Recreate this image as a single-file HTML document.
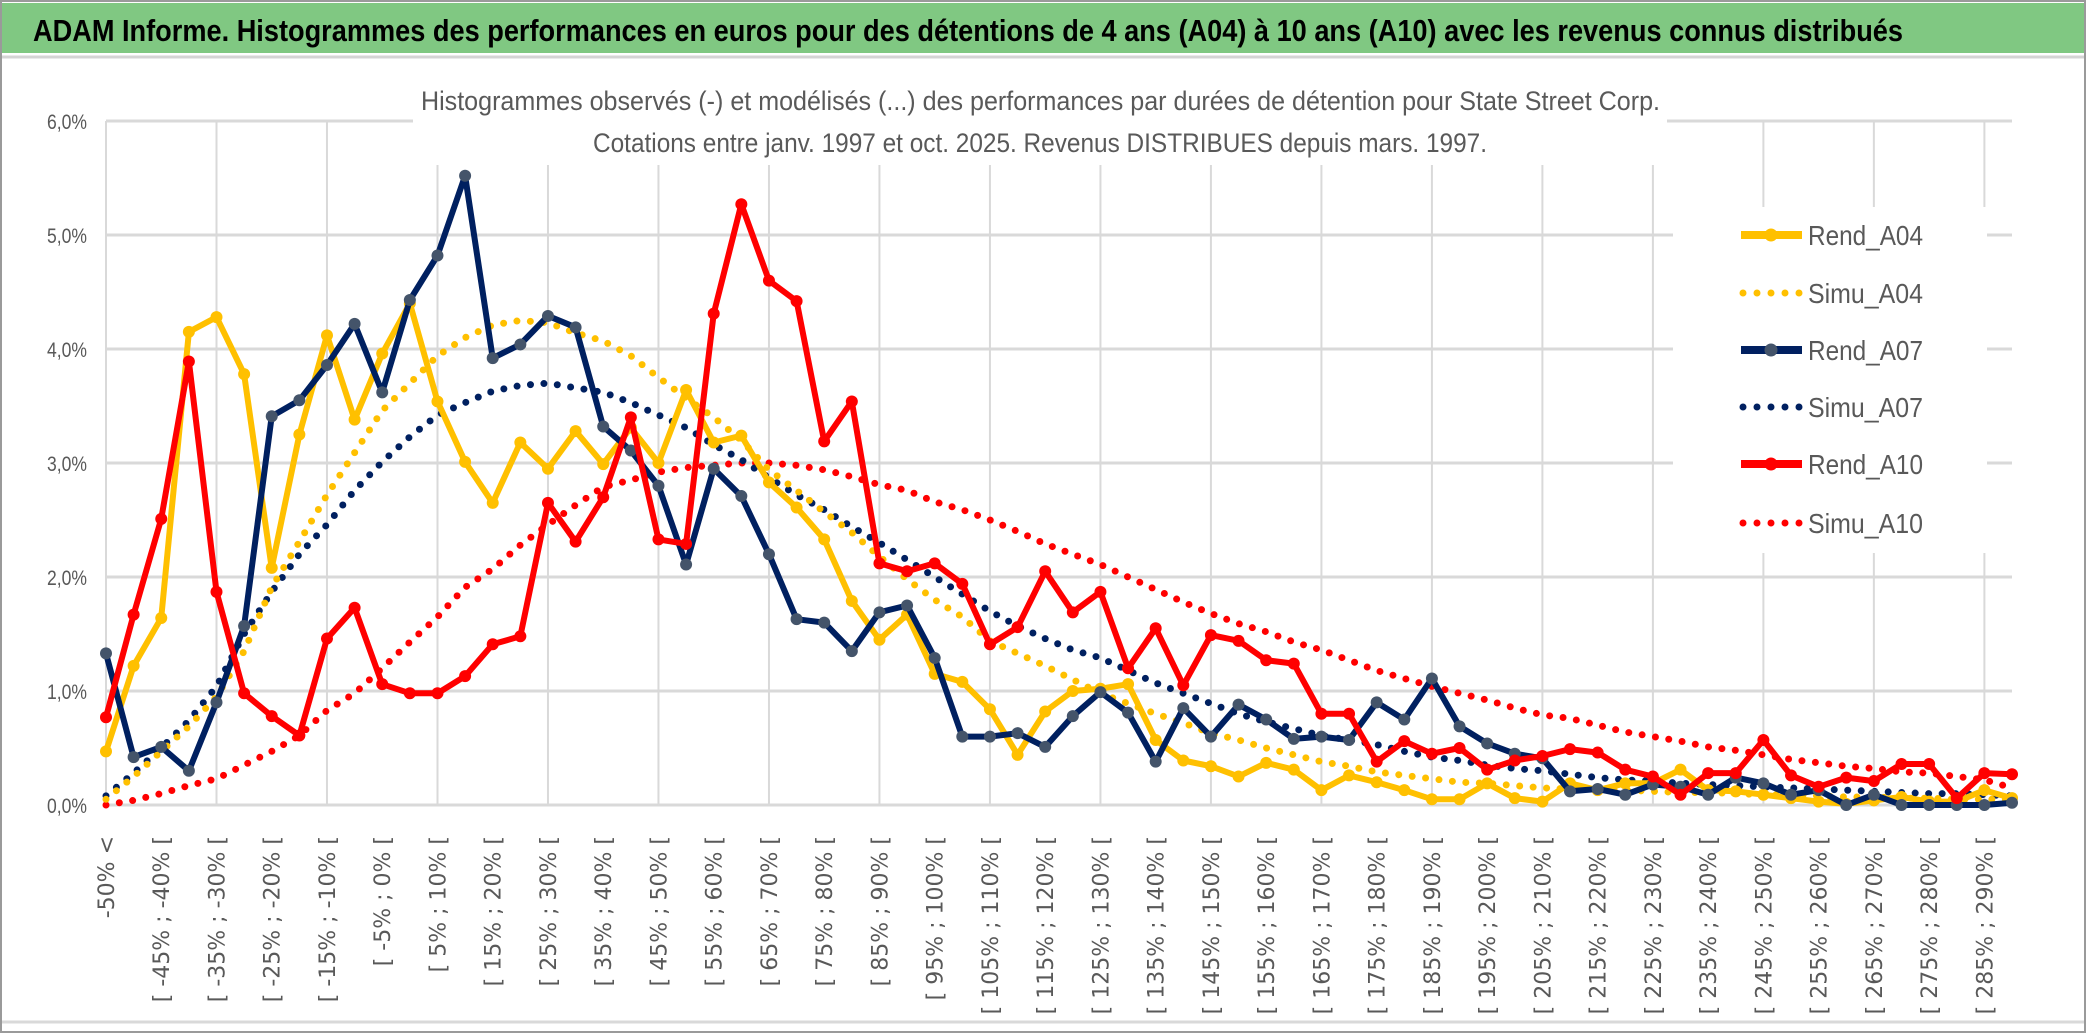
<!DOCTYPE html>
<html><head><meta charset="utf-8"><style>
html,body{margin:0;padding:0;background:#fff;}
svg{display:block;}
</style></head><body>
<svg id="chart" xmlns="http://www.w3.org/2000/svg" width="2086" height="1033" viewBox="0 0 2086 1033">
<rect x="0" y="0" width="2086" height="1033" fill="#fff"/>
<rect x="1" y="1" width="2084" height="1031" fill="none" stroke="#9a9a9a" stroke-width="2"/>
<rect x="2" y="3" width="2082" height="50" fill="#80C882"/>
<line x1="2" y1="57" x2="2084" y2="57" stroke="#d4d4d4" stroke-width="3"/>
<text x="33" y="41" font-family="Liberation Sans, sans-serif" font-weight="bold" font-size="31" fill="#000" textLength="1870" lengthAdjust="spacingAndGlyphs">ADAM Informe. Histogrammes des performances en euros pour des détentions de 4 ans (A04) à 10 ans (A10) avec les revenus connus distribués</text>
<line x1="2" y1="1022" x2="2084" y2="1022" stroke="#d9d9d9" stroke-width="3"/>
<g id="grid"></g>
<g id="series"></g>
<rect x="413" y="72" width="1254" height="93" fill="#fff"/>
<text x="421" y="110" font-family="Liberation Sans, sans-serif" font-size="27" fill="#595959" textLength="1239" lengthAdjust="spacingAndGlyphs">Histogrammes observés (-) et modélisés (...) des performances par durées de détention pour State Street Corp.</text>
<text x="593" y="152" font-family="Liberation Sans, sans-serif" font-size="27" fill="#595959" textLength="894" lengthAdjust="spacingAndGlyphs">Cotations entre janv. 1997 et oct. 2025. Revenus DISTRIBUES depuis mars. 1997.</text>
<g id="yaxis"></g>
<g id="xaxis"></g>
<g id="legend"></g>
</svg>
<script>
const categories = ["-50% <"];
for (let k = 1; k < 69; k++) { categories.push("[ " + (-50 + 5*(k-1)) + "% ; " + (-45 + 5*(k-1)) + "% ["); }
categories.push("> 290%");
const yTicks = [0,1,2,3,4,5,6];
const yTickLabels = ["0,0%","1,0%","2,0%","3,0%","4,0%","5,0%","6,0%"];
const rendA04 = [0.47,1.22,1.64,4.15,4.28,3.78,2.08,3.25,4.12,3.38,3.96,4.40,3.54,3.01,2.65,3.18,2.95,3.28,2.99,3.31,3.00,3.64,3.18,3.24,2.83,2.61,2.33,1.79,1.45,1.67,1.15,1.08,0.84,0.44,0.82,1.00,1.02,1.06,0.57,0.39,0.34,0.25,0.37,0.31,0.13,0.26,0.20,0.13,0.05,0.05,0.19,0.06,0.03,0.19,0.13,0.19,0.19,0.31,0.13,0.12,0.09,0.06,0.03,0.01,0.04,0.07,0.03,0.03,0.13,0.06];
const simuA04 = [0.05,0.25,0.47,0.69,0.95,1.35,1.91,2.31,2.72,3.09,3.46,3.70,3.94,4.10,4.21,4.25,4.23,4.14,4.07,3.94,3.75,3.57,3.40,3.20,2.94,2.76,2.57,2.39,2.18,1.98,1.80,1.65,1.44,1.33,1.22,1.10,0.98,0.89,0.80,0.72,0.63,0.57,0.50,0.44,0.38,0.34,0.29,0.26,0.23,0.20,0.19,0.17,0.15,0.14,0.14,0.13,0.12,0.11,0.11,0.10,0.09,0.09,0.08,0.07,0.07,0.06,0.06,0.05,0.05,0.05];
const rendA07 = [1.33,0.42,0.51,0.30,0.90,1.57,3.41,3.55,3.86,4.22,3.62,4.43,4.82,5.52,3.92,4.04,4.29,4.19,3.32,3.11,2.80,2.11,2.95,2.71,2.20,1.63,1.60,1.35,1.69,1.75,1.29,0.60,0.60,0.63,0.51,0.78,0.99,0.81,0.38,0.85,0.60,0.88,0.75,0.58,0.60,0.57,0.90,0.75,1.11,0.69,0.54,0.45,0.41,0.12,0.14,0.09,0.18,0.16,0.09,0.24,0.19,0.09,0.13,0.00,0.09,0.00,0.00,0.00,0.00,0.02];
const simuA07 = [0.08,0.28,0.50,0.74,1.04,1.50,1.87,2.20,2.46,2.76,3.01,3.23,3.42,3.53,3.63,3.68,3.70,3.66,3.62,3.53,3.42,3.31,3.16,3.03,2.87,2.72,2.59,2.44,2.30,2.15,2.00,1.85,1.70,1.57,1.46,1.36,1.29,1.18,1.07,0.98,0.89,0.80,0.73,0.67,0.61,0.57,0.53,0.47,0.42,0.39,0.35,0.32,0.30,0.27,0.24,0.22,0.21,0.19,0.18,0.17,0.16,0.15,0.14,0.13,0.12,0.11,0.10,0.10,0.09,0.08];
const rendA10 = [0.77,1.67,2.51,3.89,1.87,0.98,0.78,0.61,1.46,1.73,1.06,0.98,0.98,1.13,1.41,1.48,2.65,2.31,2.70,3.40,2.33,2.29,4.31,5.27,4.60,4.42,3.19,3.54,2.12,2.05,2.12,1.94,1.41,1.56,2.05,1.69,1.87,1.20,1.55,1.05,1.49,1.44,1.27,1.24,0.80,0.80,0.38,0.56,0.45,0.50,0.31,0.39,0.43,0.49,0.46,0.31,0.25,0.09,0.28,0.28,0.57,0.26,0.16,0.24,0.21,0.36,0.36,0.06,0.28,0.27];
const simuA10 = [0.00,0.04,0.10,0.17,0.23,0.35,0.47,0.61,0.83,0.98,1.20,1.43,1.65,1.91,2.07,2.28,2.46,2.63,2.79,2.85,2.92,2.96,2.98,3.00,3.00,2.98,2.94,2.88,2.81,2.76,2.66,2.59,2.50,2.40,2.29,2.20,2.11,2.00,1.89,1.78,1.68,1.59,1.52,1.43,1.36,1.27,1.18,1.11,1.04,0.98,0.92,0.85,0.79,0.76,0.70,0.64,0.60,0.56,0.51,0.48,0.44,0.40,0.37,0.34,0.32,0.29,0.28,0.25,0.22,0.15];
const seriesNames = ["Rend_A04","Simu_A04","Rend_A07","Simu_A07","Rend_A10","Simu_A10"];

const NS = "http://www.w3.org/2000/svg";
const X0 = 106, X1 = 2012, Y0 = 805, Y1 = 121, YMAX = 6;
function xPos(i){ return X0 + (X1 - X0) * i / (categories.length - 1); }
function yPos(v){ return Y0 - (Y0 - Y1) * v / YMAX; }
function mk(tag, attrs, parent){ const e = document.createElementNS(NS, tag); for (const k in attrs) e.setAttribute(k, attrs[k]); parent.appendChild(e); return e; }

const grid = document.getElementById("grid");
yTicks.forEach(function(t){
  const l = mk("line", {x1:X0, x2:X1, y1:yPos(t), y2:yPos(t), stroke:"#d9d9d9", "stroke-width":3}, grid);
  
  
});
for (let i = 0; i < categories.length; i += 4) {
  const l = mk("line", {x1:xPos(i), x2:xPos(i), y1:Y1, y2:Y0, stroke:"#d9d9d9", "stroke-width":2}, grid);
  
  
}

const yaxis = document.getElementById("yaxis");
yTicks.forEach(function(t, k){
  const tx = mk("text", {x:47, y:yPos(t)+8, "font-family":"Liberation Sans, sans-serif", "font-size":"21", fill:"#595959", textLength:"40", lengthAdjust:"spacingAndGlyphs"}, yaxis);
  tx.textContent = yTickLabels[k];
  
  
});

const xaxis = document.getElementById("xaxis");
for (let i = 0; i < categories.length; i += 2) {
  const x = xPos(i) + 8, y = 836;
  const tx = mk("text", {x:x, y:y, "text-anchor":"end", transform:"rotate(-90 "+x+" "+y+")", "font-family":"DejaVu Sans, sans-serif", "font-size":"22", fill:"#595959"}, xaxis);
  tx.textContent = categories[i];
  
  
}

const seriesLayer = document.getElementById("series");
function pts(arr){ return arr.map(function(v,i){ return xPos(i).toFixed(1)+","+yPos(v).toFixed(1); }).join(" "); }
function dotted(arr, color, name){
  const p = mk("polyline", {points:pts(arr), fill:"none", stroke:color, "stroke-width":7, "stroke-linecap":"round", "stroke-dasharray":"0 13.5"}, seriesLayer);
  
  
}
function solid(arr, color, mcolor, name){
  const p = mk("polyline", {points:pts(arr), fill:"none", stroke:color, "stroke-width":6, "stroke-linejoin":"round"}, seriesLayer);
  
  
  arr.forEach(function(v,i){
    const c = mk("circle", {cx:xPos(i), cy:yPos(v), r:6, fill:mcolor}, seriesLayer);
    
    
  });
}
dotted(simuA10, "#FF0000", "simu-a10-line");
dotted(simuA07, "#002060", "simu-a07-line");
dotted(simuA04, "#FFC000", "simu-a04-line");
solid(rendA04, "#FFC000", "#FFC000", "rend-a04-line");
solid(rendA07, "#002060", "#44546A", "rend-a07-line");
solid(rendA10, "#FF0000", "#FF0000", "rend-a10-line");

const legend = document.getElementById("legend");
const lr = mk("rect", {x:1673, y:207, width:314, height:346, fill:"#fff"}, legend);


const legColors = ["#FFC000","#FFC000","#002060","#002060","#FF0000","#FF0000"];
const legMarker = ["#FFC000",null,"#44546A",null,"#FF0000",null];
const legY = [235,293,350,407,464,523];
seriesNames.forEach(function(n, k){
  const y = legY[k];
  if (legMarker[k]) {
    const l = mk("line", {x1:1741, x2:1802, y1:y, y2:y, stroke:legColors[k], "stroke-width":8}, legend);
    
    
    const c = mk("circle", {cx:1771, cy:y, r:6.5, fill:legMarker[k]}, legend);
    
    
  } else {
    const l = mk("line", {x1:1743, x2:1800, y1:y, y2:y, stroke:legColors[k], "stroke-width":7, "stroke-linecap":"round", "stroke-dasharray":"0 14"}, legend);
    
    
  }
  const t = mk("text", {x:1808, y:y+10, "font-family":"Liberation Sans, sans-serif", "font-size":"28", fill:"#595959", textLength:"115", lengthAdjust:"spacingAndGlyphs"}, legend);
  t.textContent = n;
  
  
});
</script>
</body></html>
